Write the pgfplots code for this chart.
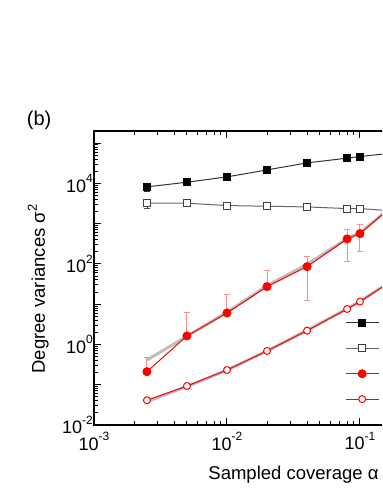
\documentclass[border=0pt]{standalone}
\usepackage{fontspec}
\setmainfont{Liberation Sans}
\usepackage{pgfplots}
\pgfplotsset{compat=1.18}
\newcommand{\pw}[2]{#1\raisebox{9.5pt}{\fontsize{12}{12}\selectfont #2}}
\definecolor{errred}{RGB}{255,140,140}
\definecolor{theo}{RGB}{190,190,190}
\begin{document}
\begin{tikzpicture}[x=1pt,y=1pt]
\useasboundingbox (0,0) rectangle (382,494);
\begin{scope}
\clip (0,0) rectangle (382,494);
\begin{axis}[
  name=ax,
  at={(94pt,69pt)}, anchor=south west,
  scale only axis, width=399pt, height=294pt,
  xmode=log, ymode=log,
  xmin=1e-3, xmax=1, ymin=1e-2, ymax=2e5,
  axis line style={line width=1.2pt},
  tick align=inside,
  major tick length=7pt, minor tick length=4pt,
  tick style={black, line width=1pt},
  xtick={1e-3,1e-2,1e-1},
  xticklabels={\pw{10}{-3},\pw{10}{-2},\pw{10}{-1}},
  extra x ticks={1}, extra x tick labels={},
  minor xtick={2e-3,3e-3,4e-3,5e-3,6e-3,7e-3,8e-3,9e-3,2e-2,3e-2,4e-2,5e-2,6e-2,7e-2,8e-2,9e-2,0.2,0.3,0.4,0.5,0.6,0.7,0.8,0.9},
  ytick={1e-2,1e-1,1,10,100,1000,1e4,1e5},
  yticklabels={\pw{10}{-2},,\pw{10}{0},,\pw{10}{2},,\pw{10}{4},},
  minor ytick={0.02,0.03,0.04,0.05,0.06,0.07,0.08,0.09,0.2,0.3,0.4,0.5,0.6,0.7,0.8,0.9,2,3,4,5,6,7,8,9,20,30,40,50,60,70,80,90,200,300,400,500,600,700,800,900,2000,3000,4000,5000,6000,7000,8000,9000,2e4,3e4,4e4,5e4,6e4,7e4,8e4,9e4},
  ticklabel style={font=\fontsize{18}{20}\selectfont},
  yticklabel style={inner sep=1pt},
  xticklabel style={inner sep=1pt, yshift=-6pt},
  every axis x label/.style={at={(axis description cs:0.5,-0.187)}, anchor=base, font=\fontsize{18.5}{20}\selectfont},
  every axis y label/.style={at={(axis description cs:-0.1228,0.4626)}, rotate=90, anchor=base, font=\fontsize{18.5}{20}\selectfont},
  xlabel={Sampled coverage α},
  ylabel={Degree variances σ\raisebox{8pt}{\fontsize{13}{13}\selectfont 2}},
  legend style={at={(axis description cs:0.629,0.391)}, anchor=north west, draw=none, fill=none, inner sep=0pt, row sep=0pt,
    nodes={inner sep=0pt, minimum height=25.4pt}},
  legend image code/.code={\draw[mark repeat=2,mark phase=2] plot coordinates {(0pt,0pt) (16.5pt,0pt) (33pt,0pt)};},
]
% theory lines (gray, thick)
\addplot[theo, line width=3pt, forget plot] coordinates {(0.0025,0.41) (0.005,1.6) (0.01,6.3) (0.02,29) (0.04,98) (0.08,425) (0.1,600) (0.2,3900)};
\addplot[theo, line width=3pt, forget plot] coordinates {(0.0025,0.038) (0.005,0.09) (0.01,0.23) (0.02,0.69) (0.04,2.25) (0.08,7.7) (0.1,11.8) (0.2,52)};
% error bars drawn below markers
\addplot[draw=none, mark=none, forget plot, error bars/.cd, y dir=plus, y explicit,
  error bar style={draw=errred, solid, line width=1pt},
  error mark options={rotate=90, draw=errred, mark size=3pt, line width=1pt}]
  coordinates {(0.0025,0.211) +- (0,0.259) (0.005,1.63) +- (0,4.67) (0.01,6.06) +- (0,11.6) (0.02,27.3) +- (0,39.7)};
\addplot[draw=none, mark=none, forget plot, error bars/.cd, y dir=both, y explicit,
  error bar style={draw=errred, solid, line width=1pt},
  error mark options={rotate=90, draw=errred, mark size=3pt, line width=1pt}]
  coordinates {(0.04,85.7) += (0,69.3) -= (0,73.5) (0.08,418) += (0,282) -= (0,304) (0.1,566) += (0,365) -= (0,367)};
\addplot[draw=none, mark=none, forget plot, error bars/.cd, y dir=both, y explicit,
  error bar style={draw=black!80, solid, line width=1pt},
  error mark options={rotate=90, draw=black!80, mark size=3pt, line width=1pt}]
  coordinates {(0.0025,8190) +- (0,2000)};
% main series
\addplot[black!80, line width=1pt, mark=square*, mark size=3.5pt, mark options={solid, fill=black, draw=black}]
  coordinates {(0.0025,8190) (0.005,10700) (0.01,14500) (0.02,21600) (0.04,32300) (0.08,42300) (0.1,46400) (0.2,59600)};
\addlegendentry{}
\addplot[black!60, line width=1pt, mark=square*, mark size=3.5pt, mark options={solid, fill=white, draw=black!75}]
  coordinates {(0.0025,3220) (0.005,3220) (0.01,2810) (0.02,2710) (0.04,2600) (0.08,2370) (0.1,2370) (0.2,2010)};
\addlegendentry{}
\addplot[red, line width=1pt, mark=*, mark size=4pt, mark options={solid, fill=red, draw=red}]
  coordinates {(0.0025,0.211) (0.005,1.63) (0.01,6.06) (0.02,27.3) (0.04,85.7) (0.08,418) (0.1,566) (0.2,3960)};
\addlegendentry{}
\addplot[red, line width=1pt, mark=*, mark size=3.5pt, mark options={solid, fill=white, draw=red}]
  coordinates {(0.0025,0.0411) (0.005,0.0931) (0.01,0.232) (0.02,0.690) (0.04,2.20) (0.08,7.62) (0.1,11.6) (0.2,51.2)};
\addlegendentry{}
% small error bars visible inside open markers
\addplot[draw=none, mark=none, forget plot, error bars/.cd, y dir=both, y explicit,
  error bar style={draw=black!70, solid, line width=0.8pt},
  error mark options={rotate=90, draw=black!70, mark size=3pt, line width=0.8pt}]
  coordinates {(0.0025,3220) +- (0,800) (0.01,2810) +- (0,180) (0.02,2710) +- (0,170) (0.04,2600) +- (0,165) (0.08,2370) +- (0,150) (0.1,2370) +- (0,150)};
\addplot[draw=none, mark=none, forget plot, error bars/.cd, y dir=both, y explicit,
  error bar style={draw=red, solid, line width=0.8pt},
  error mark options={rotate=90, draw=red, mark size=3pt, line width=0.8pt}]
  coordinates {(0.08,7.62) +- (0,0.5) (0.1,11.6) +- (0,0.8)};
\end{axis}
\end{scope}
\node[anchor=base west, font=\fontsize{20}{22}\selectfont, inner sep=0pt] at (26.7,368) {(b)};
\end{tikzpicture}
\end{document}
